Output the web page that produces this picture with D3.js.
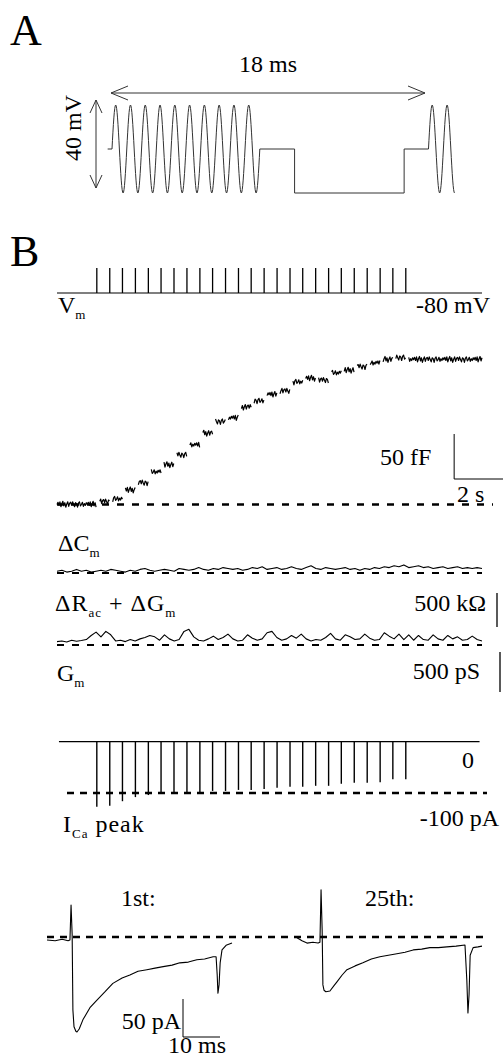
<!DOCTYPE html>
<html><head><meta charset="utf-8">
<script src="https://cdn.jsdelivr.net/npm/d3@7"></script>
<style>
body{margin:0;background:#fff}
svg{display:block}
text{font-family:"Liberation Serif","Times New Roman",serif;fill:#000}
</style>
</head><body><svg id="c" width="503" height="1060"></svg>
<script>
// ---------- Panel A: stimulation protocol (time in ms, voltage in mV relative to holding)
const stimStart  = [-0.25, 0, 8.5, 10.5, 16.8, 18.2];
const stimEnd    = [0, 8.5, 10.5, 16.8, 18.2, 19.7];
const stimLevel  = [0, 0, 0, -20, 0, 0];
const stimCycles = [0, 10, 0, 0, 0, 1.75];
const stimAmp = 20;          // mV (40 mV peak-to-peak)
const trainSpan = 18;        // ms

// ---------- Panel B: train of 25 depolarisations (time in s)
const tEnd = 17.4;
const pulseTimes = [1.63, 2.16, 2.68, 3.21, 3.74, 4.26, 4.79, 5.32, 5.85, 6.37, 6.90, 7.43, 7.95,
                    8.48, 9.01, 9.54, 10.06, 10.59, 11.12, 11.64, 12.17, 12.70, 13.23, 13.75, 14.28];
const vmHold = -80, vmPulse = 10;   // mV
// Cm level (fF) after each pulse
const cmLevels = [3, 6, 16, 24, 36, 44, 55, 66, 79, 92, 96, 108, 115, 122, 126, 136, 140, 138, 146,
                  149, 153, 157, 161, 163, 161];
const cmJitter = [0, 2.5, -1, 3, -2.5, 1, 3.5, -1.5, 2, -3, 0.5, 3, -2, 1.5, 2.5, -1, 3, 0, -2.5, 2,
                  1, -3, 1.5, 3, -1.5, 0, 2.5, -2, 1, -1, 2];
// Delta Cm (fF), sampled every 0.2 s
const dCm = [2,3,1,2,4,2,3,1,2,3,2,4,3,2,1,3,2,4,5,3,2,3,4,3,2,5,4,3,4,6,4,3,5,4,6,5,4,5,3,4,6,5,7,4,
             5,6,4,5,7,5,4,6,8,5,4,6,5,4,5,6,4,5,3,5,4,6,5,7,6,8,7,9,6,7,8,6,7,5,6,7,5,6,7,5,6,5,6,5];
// Delta Rac + Delta Gm (kOhm), sampled every 0.2 s
const dR = [50,60,45,70,55,65,80,140,190,120,200,150,60,70,50,80,60,90,110,140,120,70,150,90,60,80,
            200,230,120,70,60,90,130,80,110,160,90,60,70,150,100,70,90,180,200,110,70,90,140,100,160,
            90,60,80,70,110,170,90,70,150,120,80,90,160,100,70,80,180,130,90,160,80,150,70,140,80,70,
            150,90,70,140,90,120,70,80,130,80,60];
// Peak I_Ca (pA) for each pulse
const icaPeak = [-127, -125, -116, -108, -104, -102, -100, -98, -98, -96, -96, -94, -94, -92, -90,
                 -88, -88, -86, -86, -82, -80, -80, -79, -73, -73];
// Current traces (t in ms, I in pA)
const tr1T = [0,2.2,4.1,5.7,6.2,6.5,6.8,7.0,7.3,7.8,8.1,8.7,9.7,11.6,13.5,15.7,17.8,20.3,22.4,24.6,27.0,
              29.2,31.4,33.8,35.9,38.2,40.5,42.6,44.9,45.7,46.0,46.2,46.5,46.8,47.3,48.4,50];
const tr1I = [-4,-5,-3,-5,-4,42,3,-96,-118,-124,-125,-121,-109,-93,-83,-72,-61,-54,-50,-45,-43,
              -41,-39,-37,-34,-33,-30,-29,-26,-26,-50,-74,-63,-34,-17,-11,-8];
const tr25T = [0,1.35,2.7,4.3,5.7,6.2,6.5,6.8,7.0,7.3,7.8,8.9,10.0,10.8,12.2,13.5,15.7,17.8,20.1,22.4,
               24.7,27.0,29.2,31.4,33.7,35.9,38.2,40.5,43.0,45.4,45.9,46.2,46.5,46.8,47.6,48.9,50];
const tr25I = [-1,-5,-8,-7,-8,-7,62,9,-63,-70,-72,-71,-64,-59,-50,-43,-38,-34,-29,-26,
               -24,-22,-20,-17,-16,-14,-14,-13,-12,-10.5,-57,-100,-76,-24,-14,-13,-12];

// ---------- drawing
const svg = d3.select("#c");
svg.append("rect").attr("width",503).attr("height",1060).attr("fill","#fff");
const FS = 24, SUB = 13, SUBDY = 6;

function label(x, y, parts, anchor, size, spacing) {
  const t = svg.append("text").attr("x", x).attr("y", y)
     .attr("text-anchor", anchor || "start").attr("font-size", size || FS);
  if (spacing) t.attr("letter-spacing", spacing);
  let shift = 0;
  parts.forEach(p => {
    const sp = t.append("tspan");
    if (typeof p === "string") {
      sp.text(p);
      if (shift) { sp.attr("dy", -shift); shift = 0; }
    } else {
      sp.attr("dy", SUBDY - shift).attr("font-size", SUB).text(p.sub);
      shift = SUBDY;
    }
  });
  return t;
}
function pathOf(pts, color, w) {
  return svg.append("path").attr("d", d3.line()(pts)).attr("fill","none")
     .attr("stroke", color || "#000").attr("stroke-width", w || 1).attr("stroke-linejoin","round");
}
function dashed(x0, x1, y, dash, w) {
  svg.append("line").attr("x1",x0).attr("x2",x1).attr("y1",y).attr("y2",y)
     .attr("stroke","#000").attr("stroke-width", w || 2.2).attr("stroke-dasharray", dash || "7,7");
}

// ===== Panel A
label(10, 45, ["A"], "start", 44);
const xA = d3.scaleLinear().domain([0, trainSpan]).range([112, 425]);
const yA = d3.scaleLinear().domain([-stimAmp, stimAmp]).range([193, 105]);
const stimPts = [];
stimStart.forEach((s, i) => {
  const e = stimEnd[i];
  if (stimCycles[i] > 0) {
    const n = Math.ceil(stimCycles[i] * 32);
    for (let j = 0; j <= n; j++) {
      const f = j / n;
      stimPts.push([xA(s + f * (e - s)), yA(stimLevel[i] + stimAmp * Math.sin(2 * Math.PI * stimCycles[i] * f))]);
    }
  } else {
    stimPts.push([xA(s), yA(stimLevel[i])], [xA(e), yA(stimLevel[i])]);
  }
});
pathOf(stimPts, "#333", 1);
// 18 ms arrow
{
  const x0 = xA(0) - 1, x1 = xA(trainSpan), y = 93;
  svg.append("path").attr("fill","none").attr("stroke","#333").attr("stroke-width",1)
    .attr("d", `M${x0},${y}H${x1}M${x0+17},${y-7}L${x0},${y}L${x0+17},${y+7}M${x1-17},${y-7}L${x1},${y}L${x1-17},${y+7}`);
  label((x0 + x1) / 2, 72, ["18 ms"], "middle");
}
// 40 mV arrow
{
  const x = 96, y0 = yA(stimAmp) - 5, y1 = yA(-stimAmp) - 5;
  svg.append("path").attr("fill","none").attr("stroke","#333").attr("stroke-width",1)
    .attr("d", `M${x},${y0}V${y1}M${x-6},${y0+13}L${x},${y0}L${x+6},${y0+13}M${x-6},${y1-13}L${x},${y1}L${x+6},${y1-13}`);
  svg.append("text").attr("transform", "translate(81,128) rotate(-90)")
    .attr("text-anchor","middle").attr("font-size", FS).text("40 mV");
}

// ===== Panel B
label(10, 266, ["B"], "start", 44);
const xB = d3.scaleLinear().domain([0, tEnd]).range([57, 482]);

// Vm
const yVm = d3.scaleLinear().domain([vmHold, vmPulse]).range([293, 268]);
pathOf([[xB(0), yVm(vmHold)], [xB(tEnd), yVm(vmHold)]], "#000", 1.2);
pulseTimes.forEach(t => pathOf([[xB(t), yVm(vmHold)], [xB(t), yVm(vmPulse)]], "#000", 1.3));
label(58, 313, ["V", {sub: "m"}]);
label(490, 313, ["-80 mV"], "end");

// Cm staircase
const yCm = d3.scaleLinear().domain([0, 50]).range([504.5, 459.5]);
{
  const step = 0.04, gap = 0.12;
  const segs = [[0, pulseTimes[0], 0]];
  pulseTimes.forEach((t, k) => segs.push([t + gap, k < pulseTimes.length - 1 ? pulseTimes[k + 1] : tEnd, cmLevels[k]]));
  let j = 0;
  segs.forEach(([a, b, lev]) => {
    const pts = [];
    for (let t = a; t <= b + 1e-9; t += step) { pts.push([xB(t), yCm(lev + cmJitter[j % cmJitter.length])]); j++; }
    pathOf(pts, "#000", 1.2);
  });
}
dashed(xB(0), 493, yCm(0), "7,8", 2.4);
// scale bar 50 fF / 2 s
{
  const xr = 503, x0 = xr - (xB(2) - xB(0)), yb = 479;
  svg.append("path").attr("fill","none").attr("stroke","#000").attr("stroke-width",1)
    .attr("d", `M${x0},${yb - (yCm(0) - yCm(50))}V${yb}H${xr}`);
  label(380, 465, ["50 fF"]);
  label(457, 502, ["2 s"]);
}

// Delta Cm
const ydCm = d3.scaleLinear().domain([0, 50]).range([573, 528]);
pathOf(dCm.map((v, i) => [xB(i * 0.2), ydCm(v)]), "#000", 1.1);
dashed(xB(0), xB(tEnd), ydCm(0), "7,8", 2.2);
label(58, 551, ["\u0394C", {sub: "m"}]);

// Delta Rac + Delta Gm
const ydR = d3.scaleLinear().domain([0, 500]).range([645, 611]);
pathOf(dR.map((v, i) => [xB(i * 0.2), ydR(v)]), "#000", 1.1);
dashed(xB(0), xB(tEnd), ydR(0), "7,8", 2.2);
label(55, 611, ["\u0394R", {sub: "ac"}, " + \u0394G", {sub: "m"}], "start", FS, 1);
label(486, 611, ["500 k\u03A9"], "end");
pathOf([[497, 627 - (ydR(0) - ydR(500))], [497, 627]], "#000", 1.3);

// Gm
label(57, 681, ["G", {sub: "m"}]);
label(480, 679, ["500 pS"], "end");
pathOf([[500, 652], [500, 692]], "#000", 1.3);

// I_Ca peak
const yIca = d3.scaleLinear().domain([0, -100]).range([741.7, 793]);
pathOf([[xB(0.08), yIca(0)], [xB(17.3), yIca(0)]], "#000", 1.2);
icaPeak.forEach((v, k) => pathOf([[xB(pulseTimes[k]), yIca(0)], [xB(pulseTimes[k]), yIca(v)]], "#000", 1.4));
dashed(67, 487, yIca(-100), "7,6", 2.4);
label(462, 768, ["0"]);
label(499, 826, ["-100 pA"], "end");
label(63, 832, ["I", {sub: "Ca"}, " peak"], "start", FS, 1);

// Current traces
const yI = d3.scaleLinear().domain([0, -50]).range([937, 975]);
const xI1 = d3.scaleLinear().domain([0, 50]).range([47, 232]);
const xI25 = d3.scaleLinear().domain([0, 50]).range([297, 482]);
dashed(47, 485, yI(0), "7,6", 2.4);
pathOf(tr1T.map((t, i) => [xI1(t), yI(tr1I[i])]), "#000", 1.1);
pathOf(tr25T.map((t, i) => [xI25(t), yI(tr25I[i])]), "#000", 1.1);
label(121, 906, ["1st:"]);
label(365, 906, ["25th:"]);
{
  const xs = 183, yb = 1037;
  svg.append("path").attr("fill","none").attr("stroke","#000").attr("stroke-width",1)
    .attr("d", `M${xs},${yb - (yI(-50) - yI(0))}V${yb}H${xs + (xI1(10) - xI1(0))}`);
  label(181, 1029, ["50 pA"], "end");
  label(197, 1053, ["10 ms"], "middle");
}
</script>
</body></html>
